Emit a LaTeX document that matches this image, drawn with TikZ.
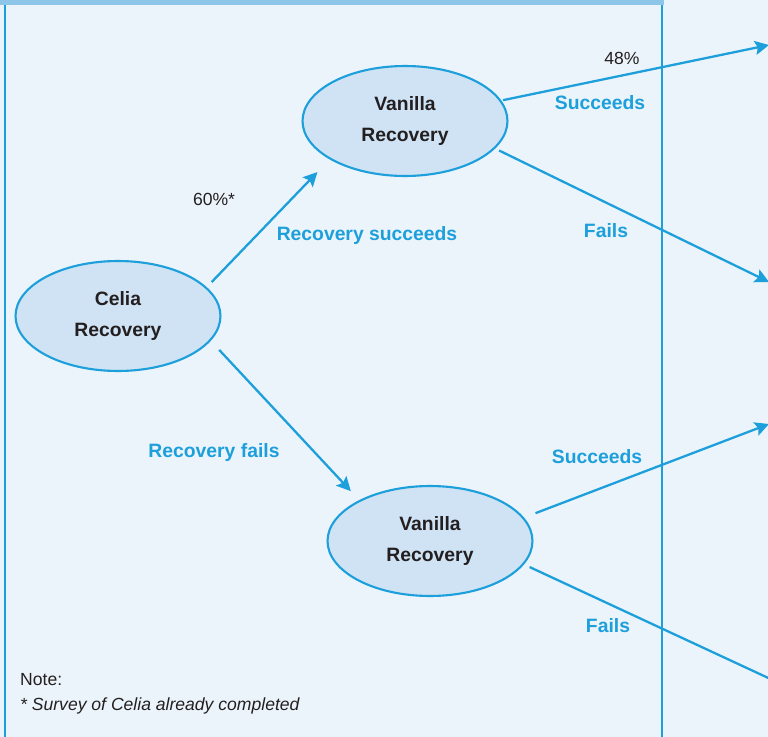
\documentclass[tikz,border=0pt]{standalone}
\usepackage{fontspec}
\setmainfont{Liberation Sans}
\usepackage{tikz}
\usetikzlibrary{arrows.meta,shapes.geometric}
\definecolor{LineBlue}{HTML}{1C9FDB}
\definecolor{PaleBlue}{HTML}{ECF4FB}
\definecolor{FillBlue}{HTML}{CFE3F4}
\definecolor{BandBlue}{HTML}{8EC6EA}
\definecolor{InkGrey}{HTML}{231F20}

\begin{document}
\begin{tikzpicture}[x=0.02cm, y=-0.02cm,
  outcome/.style={ellipse, draw=LineBlue, line width=1.2pt, fill=FillBlue,
    minimum width=4.1cm, minimum height=2.2cm, align=center, text=InkGrey,
    font=\bfseries\fontsize{11}{17.8}\selectfont},
  branch/.style={-{Stealth[length=8pt,width=8pt,inset=1.5pt]}, LineBlue, line width=1.3pt},
  branchlabel/.style={text=LineBlue, font=\bfseries\fontsize{11}{13}\selectfont},
  share/.style={text=InkGrey, font=\fontsize{10}{12}\selectfont}]
\useasboundingbox (0,0) rectangle (768,737);
\fill[PaleBlue] (0,0) rectangle (768,737);
% panel frame
\fill[BandBlue] (0,0) rectangle (664,5);
\draw[LineBlue, line width=1.3pt] (5,5) -- (5,745);
\draw[LineBlue, line width=1.3pt] (662,5) -- (662,745);

\node[outcome] (celia) at (118,316) {Celia\\Recovery};
\node[outcome] (vtop) at (405,121) {Vanilla\\Recovery};
\node[outcome] (vbot) at (430,541) {Vanilla\\Recovery};

\coordinate (succA) at (769,45);
\coordinate (failA) at (769,282);
\coordinate (succB) at (769,424);
\coordinate (failB) at (792,689);

\draw[branch, shorten <=4pt, shorten >=10pt] (celia.18) -- (vtop.207);
\draw[branch, shorten <=7pt, shorten >=7pt] (celia.-15) -- (vbot.150);
\draw[branch, shorten <=1pt] (vtop.12) -- (succA);
\draw[branch, shorten <=2.5pt] (vtop.-17) -- (failA);
\draw[branch, shorten <=7pt] (vbot.14) -- (succB);
\draw[branch, shorten <=3.5pt] (vbot.-14) -- (failB);

\node[share] (pcelia) at (214,199) {60\%*};
\node[branchlabel] (lsucc) at (367,236) {Recovery succeeds};
\node[branchlabel] (lfail) at (214,452) {Recovery fails};
\node[share] (ptop) at (622,58) {48\%};
\node[branchlabel] (lsuccA) at (600,103) {Succeeds};
\node[branchlabel] (lfailA) at (606,231) {Fails};
\node[branchlabel] (lsuccB) at (597,457) {Succeeds};
\node[branchlabel] (lfailB) at (608,626) {Fails};

\node[share, anchor=west] (note) at (14,680) {Note:};
\node[share, anchor=west] (notetext) at (14,706) {\itshape * Survey of Celia already completed};
\end{tikzpicture}
\end{document}
